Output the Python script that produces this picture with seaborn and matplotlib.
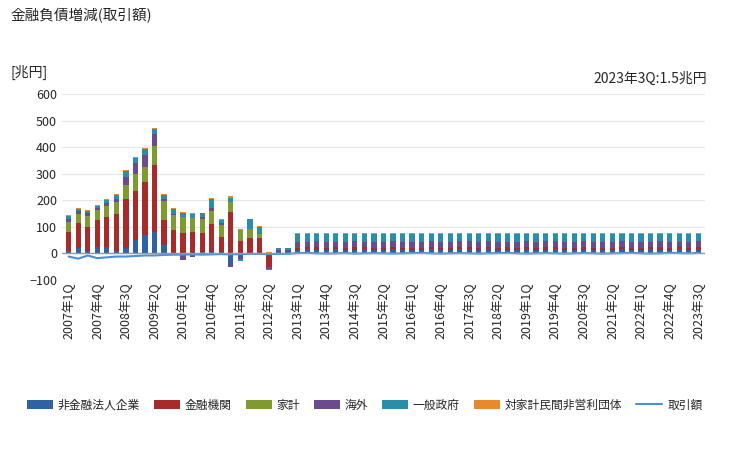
import numpy as np
import pandas as pd
import matplotlib
matplotlib.use("Agg")
import matplotlib.pyplot as plt
import seaborn as sns

quarters = [f"{y}年{q}Q" for y in range(2007, 2024) for q in range(1, 5)][:67]

nonfin = [8,21,9,25,25,9,21,51,70,80,33,0,-10,-3,4,5,5,-40,-15,0,0,-5,8,8] + \
    [14,15,14,14,15,14,14,15,14,14,15,14,14,14,15,14,14,15,14,14,15,14,14,14,15,14,14,15,14,14,15,14,14,14,15,14,14,15,14,14,15,14,14]
fin = [73,94,92,99,112,139,185,184,197,251,94,89,76,79,72,106,57,156,46,57,57,-45,0,0] + \
    [8,8,9,8,8,8,9,8,8,8,9,8,8,8,9,8,8,8,9,8,8,8,9,8,8,8,9,8,8,8,9,8,8,8,9,8,8,8,9,8,8,8,9]
household = [38,35,40,41,42,46,50,64,60,75,71,56,60,54,54,49,45,37,42,34,17,3,0,0] + [0]*43
overseas = [10,10,10,7,11,12,32,40,44,42,6,4,-15,-12,7,10,9,-10,-8,0,0,-10,6,6] + \
    [22,21,22,22,21,22,22,21,22,22,21,22,22,21,22,22,21,22,22,21,22,22,21,22,22,21,22,22,21,22,22,21,22,22,21,22,22,21,22,22,21,22,22]
govt = [10,6,10,6,10,15,23,20,22,19,16,18,16,15,14,34,10,17,-5,37,25,-3,8,8] + \
    [29,29,28,29,29,29,28,29,29,29,28,29,29,29,28,29,29,29,28,29,29,29,28,29,29,29,28,29,29,29,28,29,29,29,28,29,29,29,28,29,29,29,28]
npish = [4,4,3,3,3,4,4,3,4,6,5,3,4,3,2,3,2,5,2,3,3,2,0,0] + [3]*43
total = [-12,-20,-8,-18,-15,-12,-12,-10,-8,-8,-6,-5,-5,-4,-5,-4,-3,-4,-3,-2,-2,-3,-2,-2] + \
    [1,2,0,-1,0,1,-1,0,1,0,-1,0,1,2,0,-1,0,1,0,-1,0,1,2,0,-1,0,1,0,-1,0,1,0,-1,0,1,2,0,-1,0,2,1,0,1.5]

series = [("非金融法人企業", nonfin, "#2f62a3"), ("金融機関", fin, "#a82b2b"),
          ("家計", household, "#7f9b30"), ("海外", overseas, "#6a4b90"),
          ("一般政府", govt, "#2b8ea8"), ("対家計民間非営利団体", npish, "#e8892e")]

sns.set_theme(style="white", font="Noto Sans CJK JP")
plt.rcParams["font.family"] = "Noto Sans CJK JP"
fig = plt.figure(figsize=(7.29, 4.5), dpi=100)
ax = fig.add_axes([0.085, 0.378, 0.882, 0.413])
x = np.arange(len(quarters))
pos = np.zeros(len(x)); neg = np.zeros(len(x))
for name, vals, col in series:
    v = np.array(vals, dtype=float)
    b = np.where(v >= 0, pos, neg)
    ax.bar(x, v, bottom=b, width=0.55, color=col, label=name, edgecolor="none")
    pos = pos + np.where(v >= 0, v, 0); neg = neg + np.where(v < 0, v, 0)
df = pd.DataFrame({"x": x, "total": total})
sns.lineplot(data=df, x="x", y="total", ax=ax, color="#4a8fdc", lw=1.5, label="取引額")
ax.axhline(0, color="#999999", lw=1)
ax.set_ylim(-100, 600)
ax.set_yticks(range(-100, 601, 100))
ax.set_xlim(-0.7, len(x) - 0.3)
ax.set_xticks(x[::3])
ax.set_xticklabels(quarters[::3], rotation=90, fontsize=9)
ax.tick_params(axis="y", labelsize=9, length=0)
ax.tick_params(axis="x", length=0, pad=2)
ax.yaxis.grid(True, color="#e6e6e6", lw=0.8)
for s in ax.spines.values():
    s.set_visible(False)
ax.set_xlabel(""); ax.set_ylabel("")
ax.get_legend().remove()
h, l = ax.get_legend_handles_labels()
order = [l.index(n) for n, _, _ in series] + [l.index("取引額")]
fig.legend([h[i] for i in order], [l[i] for i in order], loc="center",
           bbox_to_anchor=(0.5, 0.1), ncol=7, frameon=False,
           fontsize=8.5, handlelength=2.2, columnspacing=1.2, handletextpad=0.4)
fig.text(0.014, 0.955, "金融負債増減(取引額)", fontsize=10.5)
fig.text(0.014, 0.83, "[兆円]", fontsize=10)
fig.text(0.97, 0.815, "2023年3Q:1.5兆円", fontsize=10, ha="right")
fig.savefig("out.png", dpi=100)
